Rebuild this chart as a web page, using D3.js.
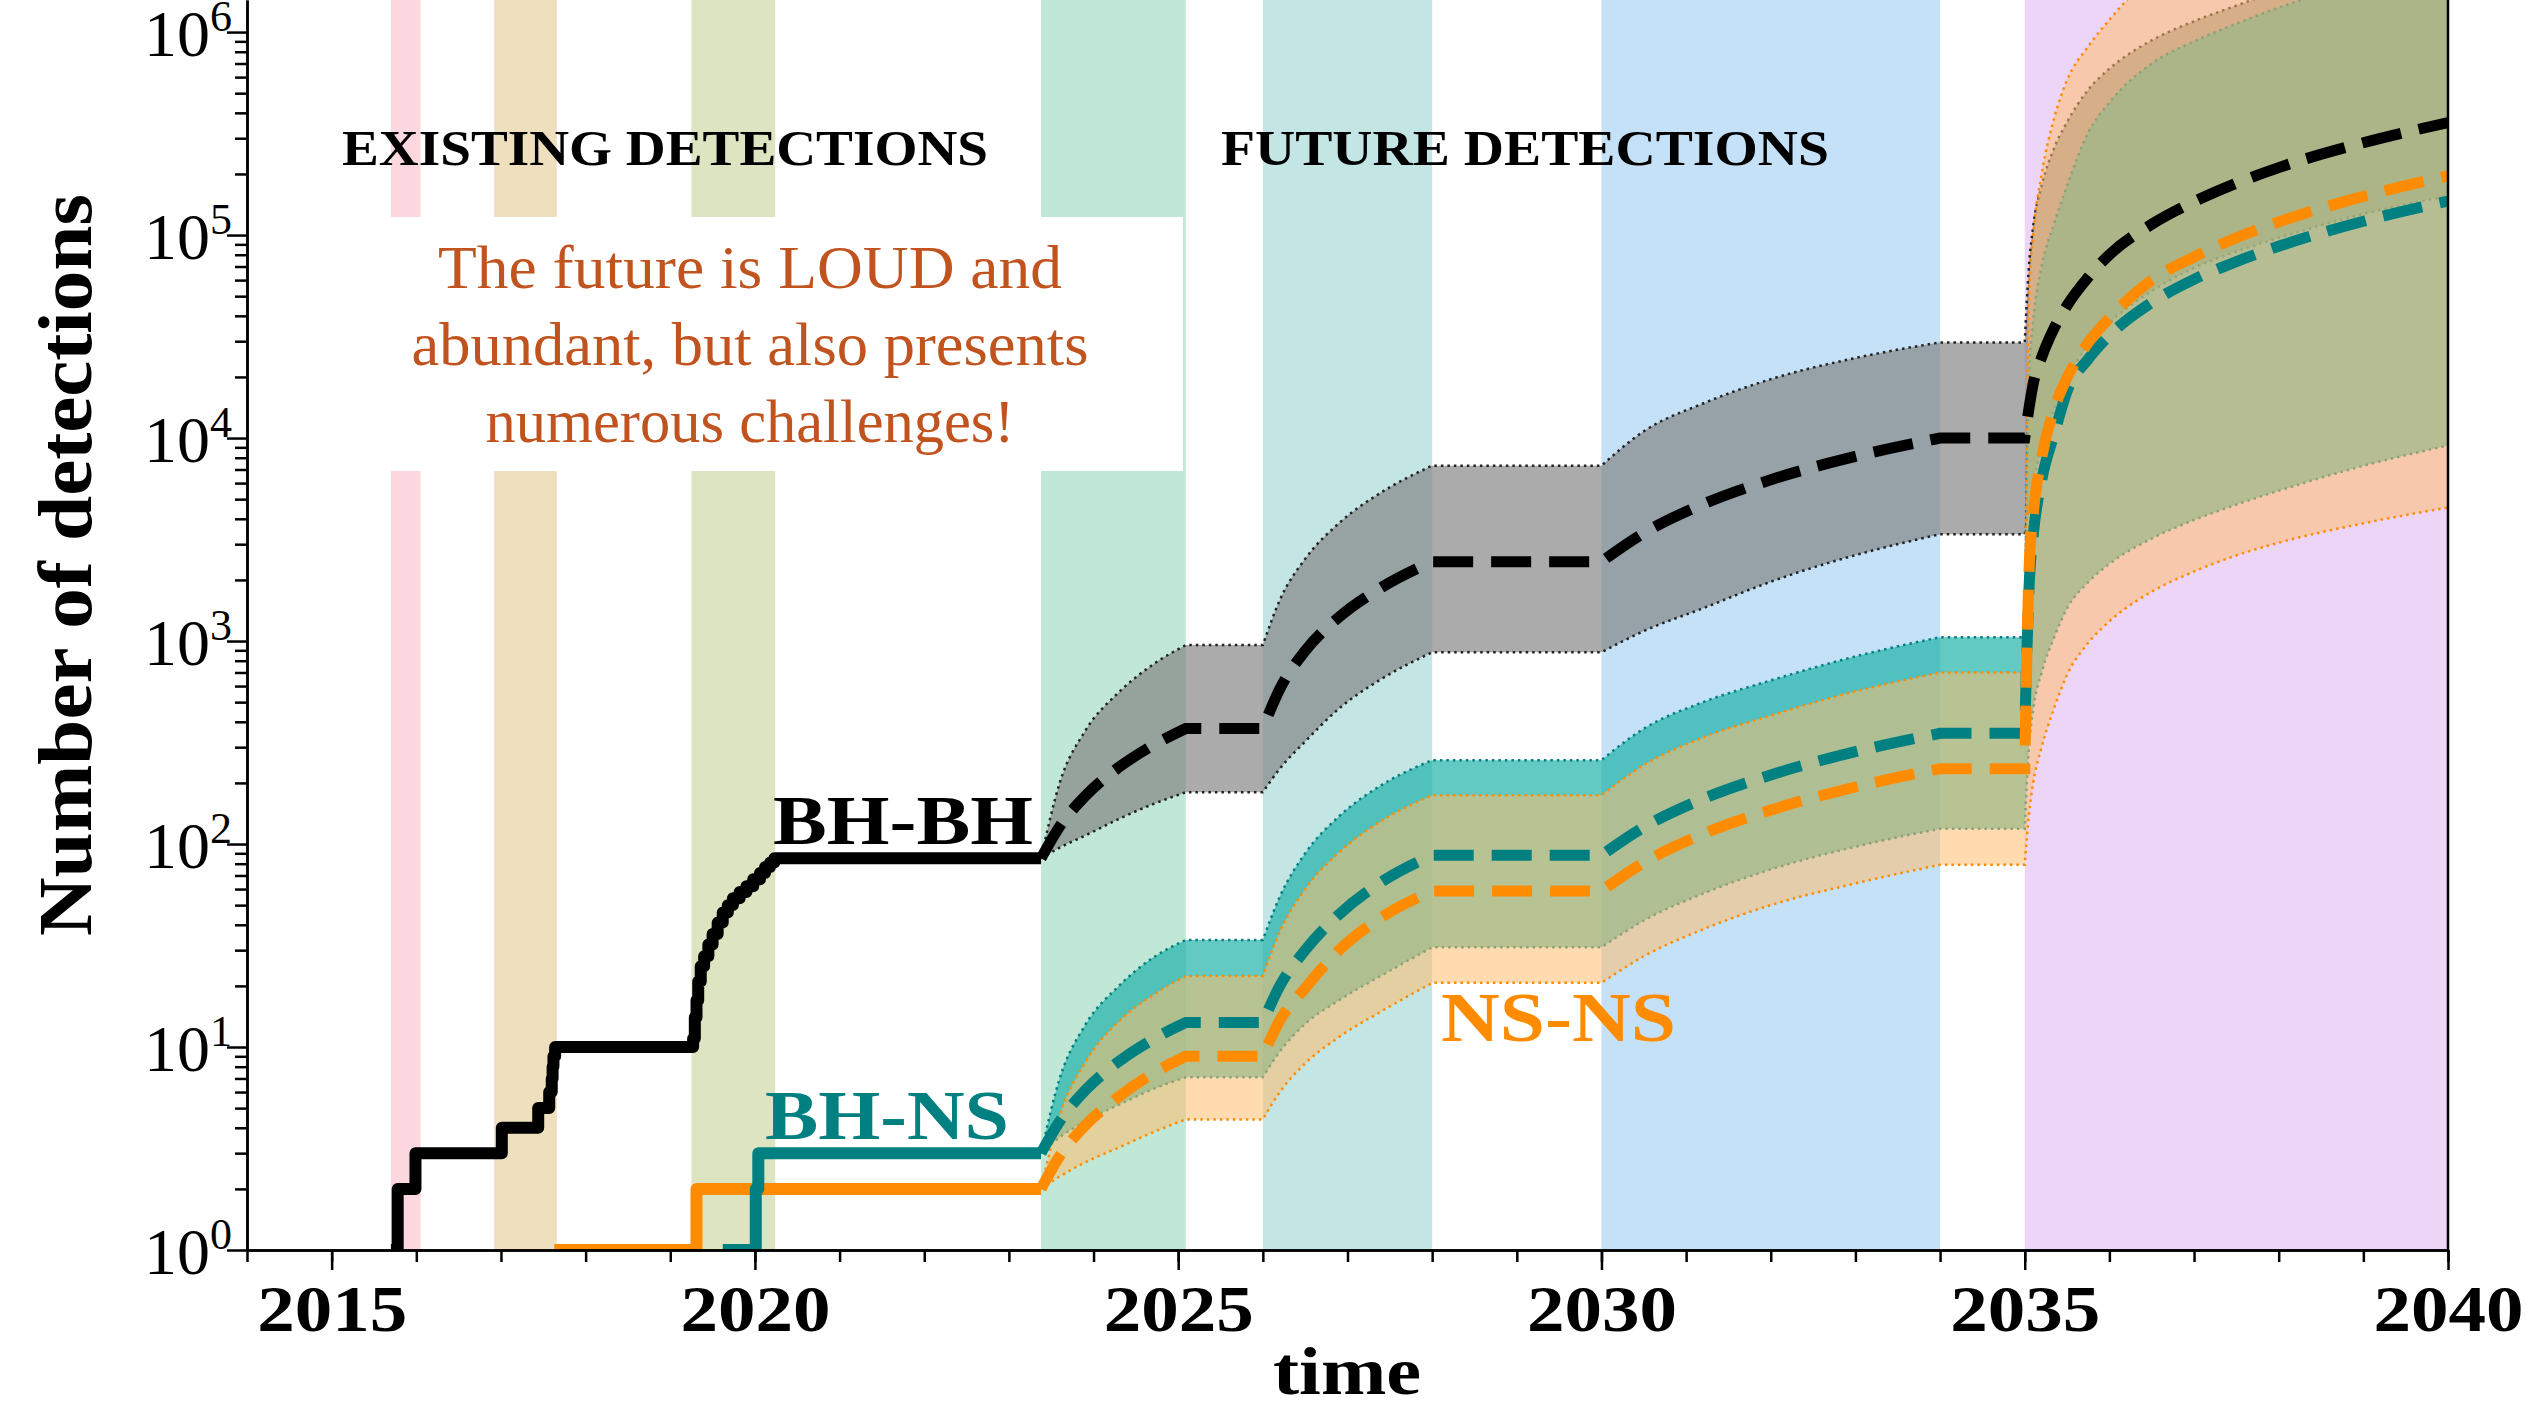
<!DOCTYPE html>
<html>
<head>
<meta charset="utf-8">
<script src="https://cdn.jsdelivr.net/npm/d3@7"></script>
<style>
  body { margin: 0; background: #fff; }
  svg { display: block; }
  text { font-family: "Liberation Serif", "DejaVu Serif", serif; }
</style>
</head>
<body>
<svg id="chart" width="2539" height="1408"></svg>
<script>
// observing runs (years)
var runStart = [2015.70, 2016.92, 2019.25, 2023.38, 2026.0, 2030.0, 2035.0];
var runEnd   = [2016.05, 2017.66, 2020.24, 2025.09, 2028.0, 2034.0, 2040.0];
var runColor = ["#FDD7DF", "#EEDFBF", "#DCE4C1", "#C1E8D7", "#C3E5E4", "#C4E1F7", "#EDD5F8"];

// existing detections, cumulative counts
var bbhYears  = [2015.70, 2015.78, 2015.99, 2017.01, 2017.44, 2017.57, 2017.60, 2017.61, 2017.62, 2017.64,
                 2019.27, 2019.29, 2019.31, 2019.33, 2019.36, 2019.40, 2019.45, 2019.50, 2019.56, 2019.62,
                 2019.68, 2019.74, 2019.82, 2019.90, 2019.98, 2020.06, 2020.12, 2020.18, 2020.23, 2023.38];
var bbhCounts = [1, 2, 3, 4, 5, 6, 7, 8, 9, 10,
                 11, 14, 17, 21, 25, 28, 32, 36, 41, 46,
                 50, 54, 58, 62, 67, 72, 77, 81, 85, 85];
var bhnsYears  = [2019.62, 2020.01, 2020.04, 2023.38];
var bhnsCounts = [1, 2, 3, 3];
var nsnsYears  = [2017.63, 2019.31, 2023.38];
var nsnsCounts = [1, 2, 2];

// projections: median and band edges
var futureYears = [2023.38, 2023.6, 2023.9, 2024.3, 2024.7, 2025.09,
                   2026.0, 2026.2, 2026.5, 2026.9, 2027.4, 2028.0,
                   2030.0, 2030.5, 2031.2, 2032.0, 2033.0, 2034.0,
                   2035.0, 2035.05, 2035.1, 2035.2, 2035.35, 2035.5, 2035.75, 2036.0,
                   2036.5, 2037.0, 2037.5, 2038.0, 2039.0, 2040.0];
var runKnots = [2023.38, 2025.09, 2026.0, 2028.0, 2030.0, 2034.0, 2035.0, 2040.0];

var bbhMid = [85, 122, 172, 239, 306, 371, 371, 580, 894, 1312, 1835, 2460,
              2460, 3400, 4720, 6230, 8120, 10000,
              10000, 14000, 18500, 25000, 35000, 45000, 62000, 80000, 113000, 146000, 180000, 215000, 285000, 358000];
var bbhHi  = [85, 200, 360, 560, 765, 955, 955, 1590, 2540, 3810, 5400, 7310,
              7310, 10800, 14800, 19500, 24800, 29600,
              29600, 70000, 110000, 175000, 270000, 360000, 520000, 660000, 910000, 1130000, 1350000, 1600000, 2100000, 2600000];
var bbhLo  = [85, 96, 110, 133, 157, 180, 180, 235, 320, 465, 650, 880,
              880, 1120, 1450, 1960, 2650, 3360,
              3360, 4500, 6000, 9000, 14000, 19500, 29000, 37000, 53000, 69000, 83000, 97000, 127000, 156000];

var bhnsMid = [3, 4.3, 6.1, 8.5, 10.9, 13.2, 13.2, 20, 30, 45, 65, 88,
               88, 121, 167, 219, 285, 351,
               351, 1800, 3300, 6200, 10500, 17000, 24500, 32000, 46500, 60500, 74000, 88000, 117000, 147000];
var bhnsHi  = [3, 7, 12.8, 20, 27.5, 33.7, 33.7, 55, 90, 137, 195, 259,
               259, 370, 500, 640, 840, 1045,
               1045, 20000, 38000, 70000, 115000, 175000, 320000, 450000, 700000, 900000, 1100000, 1320000, 1750000, 2200000];
var bhnsLo  = [3, 3.6, 4.3, 5.2, 6.2, 7.1, 7.1, 9.5, 13, 17, 22.5, 31,
               31, 42, 57, 75, 97, 119,
               119, 300, 460, 700, 1050, 1450, 1950, 2400, 3200, 3950, 4700, 5500, 7300, 9200];

var nsnsMid = [2, 2.9, 4.1, 5.7, 7.4, 9.0, 9.0, 13.5, 19.5, 30, 43.5, 58.7,
               58.7, 81, 112, 147, 191, 235,
               235, 2200, 4200, 8000, 14000, 19800, 29500, 39000, 60000, 78000, 97000, 116000, 155000, 196000];
var nsnsHi  = [2, 4.6, 8.4, 13.4, 18, 22.4, 22.4, 37, 60, 91, 130, 174,
               174, 245, 335, 430, 565, 700,
               700, 50000, 100000, 200000, 380000, 580000, 850000, 1150000, 1900000, 2700000, 3400000, 4200000, 5800000, 7500000];
var nsnsLo  = [2, 2.3, 2.7, 3.2, 3.8, 4.4, 4.4, 6, 8.3, 11.2, 15, 20.7,
               20.7, 28, 38, 50, 64, 79,
               79, 140, 200, 300, 470, 680, 980, 1250, 1750, 2200, 2640, 3050, 3800, 4550];

var xTicks = [2015, 2020, 2025, 2030, 2035, 2040];
var yTicks = [1, 10, 100, 1000, 10000, 100000, 1000000];
var quote = ["The future is LOUD and", "abundant, but also presents", "numerous challenges!"];

// ---------------------------------------------------------------
var svg = d3.select("#chart"),
  margin = { top: 0, right: 91, bottom: 158, left: 247 },
  width = 2539 - margin.left - margin.right,
  height = 1408 - margin.top - margin.bottom;

var x = d3.scaleLinear().domain([2014, 2040]).range([margin.left, margin.left + width]);
var y = d3.scaleLog().domain([1, Math.pow(10, 6.158)]).range([margin.top + height, margin.top]);

svg.append("defs").append("clipPath").attr("id", "plotclip")
  .append("rect").attr("x", margin.left).attr("y", margin.top)
  .attr("width", width).attr("height", height);

var plot = svg.append("g").attr("clip-path", "url(#plotclip)");

// run shading
plot.selectAll(".run").data(runStart).enter().append("rect")
  .attr("class", "run")
  .attr("x", function (d) { return x(d); })
  .attr("width", function (d, i) { return x(runEnd[i]) - x(d); })
  .attr("y", margin.top)
  .attr("height", height)
  .attr("fill", function (d, i) { return runColor[i]; });

// white box behind the quote
plot.append("rect")
  .attr("x", 300).attr("y", 217).attr("width", 1183 - 300).attr("height", 471 - 217)
  .attr("fill", "#fff");

// piecewise monotone path: a new spline piece at each run boundary
var lineGen = d3.line().curve(d3.curveMonotoneX);
function piecePath(ts, vs) {
  var parts = [], cur = [];
  ts.forEach(function (t, i) {
    var p = [x(t), y(vs[i])];
    cur.push(p);
    if (runKnots.indexOf(t) >= 0 && cur.length > 1) { parts.push(cur); cur = [p]; }
  });
  if (cur.length > 1) parts.push(cur);
  return parts.map(function (p, k) {
    var s = lineGen(p);
    return k ? s.replace(/^M[^LC]*/, "") : s;
  }).join("");
}
function bandPath(ts, lo, hi) {
  var up = piecePath(ts, hi);
  var down = piecePath(ts.slice().reverse(), lo.slice().reverse());
  return up + down.replace(/^M/, "L") + "Z";
}

var bands = [
  { lo: bbhLo, hi: bbhHi, fill: "#808080", op: 0.66, edge: "#222" },
  { lo: bhnsLo, hi: bhnsHi, fill: "#20B2AA", op: 0.7, edge: "#008080" },
  { lo: nsnsLo, hi: nsnsHi, fill: "#FFBE6E", op: 0.55, edge: "#FF8C00" }
];
bands.forEach(function (b) {
  plot.append("path").attr("d", bandPath(futureYears, b.lo, b.hi))
    .attr("fill", b.fill).attr("fill-opacity", b.op).attr("stroke", "none");
  [b.lo, b.hi].forEach(function (v) {
    plot.append("path").attr("d", piecePath(futureYears, v))
      .attr("fill", "none").attr("stroke", b.edge)
      .attr("stroke-width", 2.5).attr("stroke-dasharray", "2.5,4");
  });
});

// medians (dashed)
[[bhnsMid, "#008080"], [nsnsMid, "#FF8C00"], [bbhMid, "#000"]].forEach(function (m) {
  plot.append("path").attr("d", piecePath(futureYears, m[0]))
    .attr("fill", "none").attr("stroke", m[1])
    .attr("stroke-width", 11).attr("stroke-dasharray", "40,18");
});

// existing detections (solid steps)
var stepGen = d3.line().curve(d3.curveStepAfter)
  .x(function (d) { return x(d[0]); })
  .y(function (d) { return y(d[1]); });
[[nsnsYears, nsnsCounts, "#FF8C00"], [bhnsYears, bhnsCounts, "#008080"], [bbhYears, bbhCounts, "#000"]]
  .forEach(function (s) {
    plot.append("path").datum(d3.zip(s[0], s[1]))
      .attr("d", stepGen)
      .attr("fill", "none").attr("stroke", s[2])
      .attr("stroke-width", 12).attr("stroke-linejoin", "round");
  });

// axes
var xAxis = svg.append("g").attr("transform", "translate(0," + (margin.top + height) + ")")
  .call(d3.axisBottom(x).tickValues(xTicks).tickSize(20).tickSizeOuter(0).tickFormat(d3.format("d")));
svg.append("g").attr("transform", "translate(0," + (margin.top + height) + ")")
  .call(d3.axisBottom(x).tickValues(d3.range(2014, 2041)).tickSize(12).tickSizeOuter(0).tickFormat(""));
xAxis.selectAll("text")
  .attr("y", 81).attr("dy", 0)
  .attr("font-size", 66).attr("font-weight", "bold").attr("fill", "#000")
  .attr("textLength", 150).attr("lengthAdjust", "spacingAndGlyphs")
  .style("font-family", "'Liberation Serif', serif");

var minorY = [];
yTicks.forEach(function (t) { for (var k = 2; k < 10; k++) if (t * k < y.domain()[1]) minorY.push(t * k); });
svg.append("g").attr("transform", "translate(" + margin.left + ",0)")
  .call(d3.axisLeft(y).tickValues(yTicks).tickSize(20).tickSizeOuter(0).tickFormat(""));
svg.append("g").attr("transform", "translate(" + margin.left + ",0)")
  .call(d3.axisLeft(y).tickValues(minorY).tickSize(12).tickSizeOuter(0).tickFormat(""));

var yLab = svg.append("g").selectAll("text").data(yTicks).enter().append("text")
  .attr("x", 232)
  .attr("y", function (d) { return y(d) + 24; })
  .attr("text-anchor", "end")
  .attr("font-size", 66)
  .attr("fill", "#000");
yLab.append("tspan").text("10");
yLab.append("tspan").attr("dy", -25).attr("font-size", 44)
  .text(function (d) { return Math.round(Math.log10(d)); });

svg.selectAll(".domain").attr("stroke-width", 2.5);
svg.selectAll(".tick line").attr("stroke-width", 2.5);

// right spine
svg.append("line")
  .attr("x1", margin.left + width).attr("x2", margin.left + width)
  .attr("y1", margin.top).attr("y2", margin.top + height)
  .attr("stroke", "#000").attr("stroke-width", 2.5);

// axis titles
svg.append("text")
  .attr("transform", "translate(91," + 565 + ") rotate(-90)")
  .attr("text-anchor", "middle")
  .attr("font-size", 76).attr("font-weight", "bold")
  .attr("textLength", 742).attr("lengthAdjust", "spacingAndGlyphs")
  .text("Number of detections");
svg.append("text")
  .attr("x", 1347).attr("y", 1394)
  .attr("text-anchor", "middle")
  .attr("font-size", 68).attr("font-weight", "bold")
  .attr("textLength", 148).attr("lengthAdjust", "spacingAndGlyphs")
  .text("time");

// headings
svg.append("text").attr("x", 342).attr("y", 165)
  .attr("font-size", 50).attr("font-weight", "bold")
  .attr("textLength", 646).attr("lengthAdjust", "spacingAndGlyphs")
  .text("EXISTING DETECTIONS");
svg.append("text").attr("x", 1221).attr("y", 165)
  .attr("font-size", 50).attr("font-weight", "bold")
  .attr("textLength", 608).attr("lengthAdjust", "spacingAndGlyphs")
  .text("FUTURE DETECTIONS");

// quote
var quoteW = [624, 677, 529];
svg.selectAll(".quote").data(quote).enter().append("text")
  .attr("class", "quote")
  .attr("x", 750)
  .attr("y", function (d, i) { return 288 + i * 77; })
  .attr("text-anchor", "middle")
  .attr("font-size", 62)
  .attr("fill", "#C1531F")
  .attr("textLength", function (d, i) { return quoteW[i]; })
  .attr("lengthAdjust", "spacingAndGlyphs")
  .text(function (d) { return d; });

// series labels
svg.append("text").attr("x", 773).attr("y", 844)
  .attr("font-size", 70).attr("font-weight", "bold").attr("fill", "#000")
  .attr("textLength", 260).attr("lengthAdjust", "spacingAndGlyphs").text("BH-BH");
svg.append("text").attr("x", 765).attr("y", 1139)
  .attr("font-size", 70).attr("font-weight", "bold").attr("fill", "#008080")
  .attr("textLength", 244).attr("lengthAdjust", "spacingAndGlyphs").text("BH-NS");
svg.append("text").attr("x", 1441).attr("y", 1041)
  .attr("font-size", 70).attr("font-weight", "bold").attr("fill", "#FF8C00")
  .attr("textLength", 235).attr("lengthAdjust", "spacingAndGlyphs").text("NS-NS");
</script>
</body>
</html>
